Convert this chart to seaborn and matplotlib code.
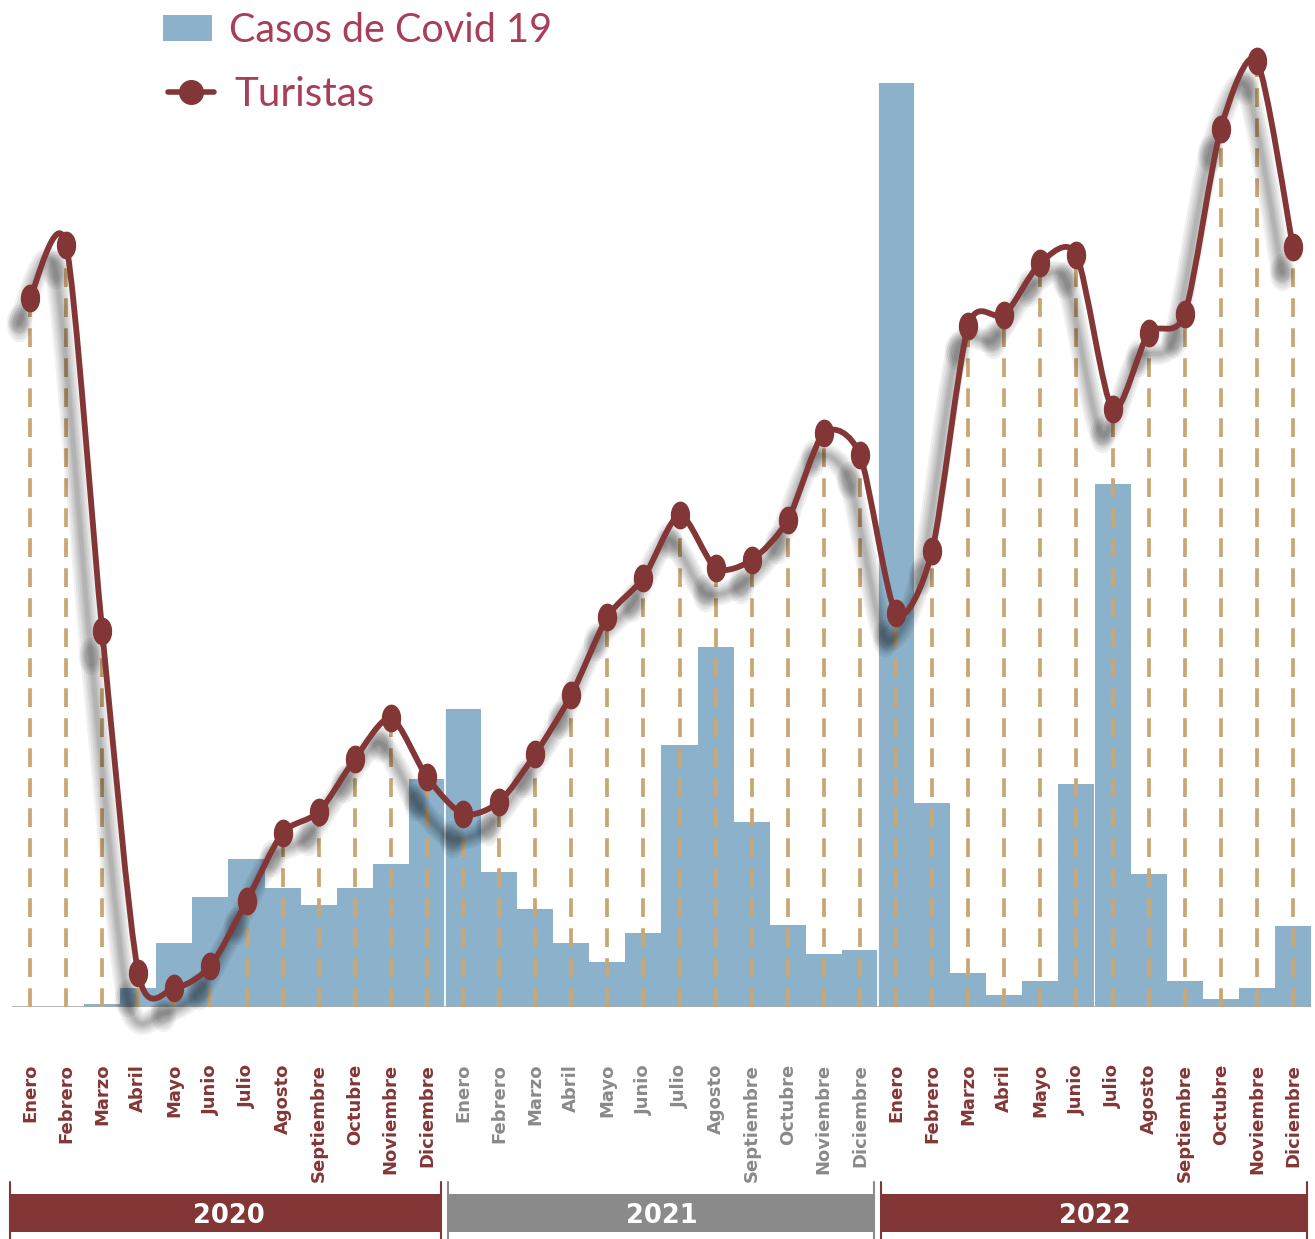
import numpy as np
import matplotlib
matplotlib.use("Agg")
import matplotlib.pyplot as plt
import seaborn as sns
from matplotlib.path import Path
from matplotlib.patches import PathPatch, Rectangle
from matplotlib.lines import Line2D
from matplotlib.transforms import ScaledTranslation, blended_transform_factory

# Data (arbitrary units)
years = ["2020", "2021", "2022"]
months = ["Enero", "Febrero", "Marzo", "Abril", "Mayo", "Junio", "Julio",
          "Agosto", "Septiembre", "Octubre", "Noviembre", "Diciembre"]
casos_2020 = [0, 0, 3, 19, 64, 110, 148, 119, 102, 119, 143, 228]
casos_2021 = [298, 135, 98, 64, 45, 74, 262, 360, 185, 82, 53, 57]
casos_2022 = [924, 204, 34, 12, 26, 223, 523, 133, 26, 8, 19, 81]
turistas_2020 = [709, 762, 376, 34, 19, 41, 106, 174, 195, 248, 289, 230]
turistas_2021 = [193, 205, 253, 312, 390, 429, 492, 439, 447, 487, 574, 552]
turistas_2022 = [394, 456, 681, 692, 744, 752, 598, 674, 693, 878, 946, 760]

casos = casos_2020 + casos_2021 + casos_2022
turistas = turistas_2020 + turistas_2021 + turistas_2022
labels = months * 3
x = np.arange(len(labels))

RED = "#833636"
GRAY = "#8a8a8a"
BLUE = "#8bb1cb"
TAN = "#c9a774"
ROSE = "#a83e57"
year_colors = [RED, GRAY, RED]

sns.set_theme(style="white")
plt.rcParams["font.family"] = ["DejaVu Sans"]

fig = plt.figure(figsize=(13.15, 12.39), dpi=100)
ax = fig.add_axes([12 / 1315, 232 / 1239, 1299 / 1315, 1007 / 1239])

# Covid bars
sns.barplot(x=x, y=casos, width=1.0, color=BLUE, saturation=1,
            linewidth=0, ax=ax, zorder=1)

# year separators through the bars
for b in [11.5, 23.5]:
    ax.axvline(b, color="white", lw=1.3, zorder=1.5)

# baseline
ax.axhline(0, color="#a9a9a9", lw=1.2, zorder=1.6)

# dashed drop lines
ax.vlines(x, 0, turistas, colors=TAN, lw=2.7, linestyles=(0, (5, 3)),
          zorder=2)

# smooth tourists curve (cardinal spline as cubic Bezier segments)
tension = 0.13
pts = np.column_stack([x, turistas]).astype(float)
n = len(pts)
verts = [pts[0]]
codes = [Path.MOVETO]
for i in range(n - 1):
    p0 = pts[max(i - 1, 0)]
    p1 = pts[i]
    p2 = pts[i + 1]
    p3 = pts[min(i + 2, n - 1)]
    verts += [p1 + (p2 - p0) * tension, p2 - (p3 - p1) * tension, p2]
    codes += [Path.CURVE4] * 3
curve = Path(verts, codes)

theta = np.linspace(0, 2 * np.pi, 60)
ellipse = Path(np.column_stack([0.68 * np.cos(theta), np.sin(theta)]))

# soft blurred shadow
shadow_tr = ax.transData + ScaledTranslation(-11 / 100, -25 / 100, fig.dpi_scale_trans)
for lw in [16, 13, 10, 7.5, 5, 3]:
    ax.add_patch(PathPatch(curve, facecolor="none", edgecolor="black",
                           lw=lw, alpha=0.055, capstyle="round",
                           joinstyle="round", transform=shadow_tr,
                           clip_on=False, zorder=3))
for ms in [27, 23, 19, 15]:
    ax.plot(x, turistas, linestyle="none", marker=ellipse, markersize=ms,
            color="black", transform=shadow_tr, alpha=0.06,
            markeredgewidth=0, clip_on=False, zorder=3)

ax.add_patch(PathPatch(curve, facecolor="none", edgecolor=RED, lw=4.2,
                       capstyle="round", joinstyle="round", clip_on=False,
                       zorder=4))
ax.plot(x, turistas, linestyle="none", marker=ellipse, markersize=19,
        color=RED, clip_on=False, zorder=5)

ax.set_xlim(-0.5, 35.5)
ax.set_ylim(0, 1007)
ax.set_yticks([])
for s in ax.spines.values():
    s.set_visible(False)

ax.set_xticks(x)
ax.set_xticklabels(labels, rotation=90, fontsize=13, fontweight="bold",
                   va="top", ha="center")
ax.tick_params(axis="x", length=0, pad=41)
for i, t in enumerate(ax.get_xticklabels()):
    t.set_color(year_colors[i // 12])

# year bands
btr = blended_transform_factory(ax.transData, fig.transFigure)
for k, yr in enumerate(years):
    left = 12 * k - 0.5 + (0.07 if k else -0.05)
    right = 12 * k + 11.5 - 0.1
    ax.add_patch(Rectangle((left, 7 / 1239), right - left, 38 / 1239,
                           facecolor=year_colors[k], edgecolor="none",
                           transform=btr, clip_on=False))
    for e in [left, right]:
        ax.add_line(Line2D([e, e], [0, 57 / 1239], color=year_colors[k],
                           lw=1.5, transform=btr, clip_on=False))
    ax.text(12 * k + 5.5, 23 / 1239, yr, transform=btr, ha="center",
            va="center", color="white", fontsize=18.5, fontweight="bold")

# legend
fig.patches.append(Rectangle((163 / 1315, 1 - 41 / 1239), 49 / 1315, 26 / 1239,
                             facecolor=BLUE, edgecolor="none",
                             transform=fig.transFigure))
fig.text(229 / 1315, 1 - 30 / 1239, "Casos de Covid 19", color=ROSE,
         fontsize=28.5, family="Lato", va="center", ha="left")
fig.lines.append(Line2D([168 / 1315, 214 / 1315], [1 - 92 / 1239, 1 - 92 / 1239],
                        color=RED, lw=4, solid_capstyle="round",
                        transform=fig.transFigure))
fig.lines.append(Line2D([191 / 1315], [1 - 92 / 1239], color=RED,
                        marker="o", markersize=17, linestyle="none",
                        transform=fig.transFigure))
fig.text(234 / 1315, 1 - 95 / 1239, "Turistas", color=ROSE,
         fontsize=29, family="Lato", va="center", ha="left")

fig.savefig("out.png", dpi=100)
